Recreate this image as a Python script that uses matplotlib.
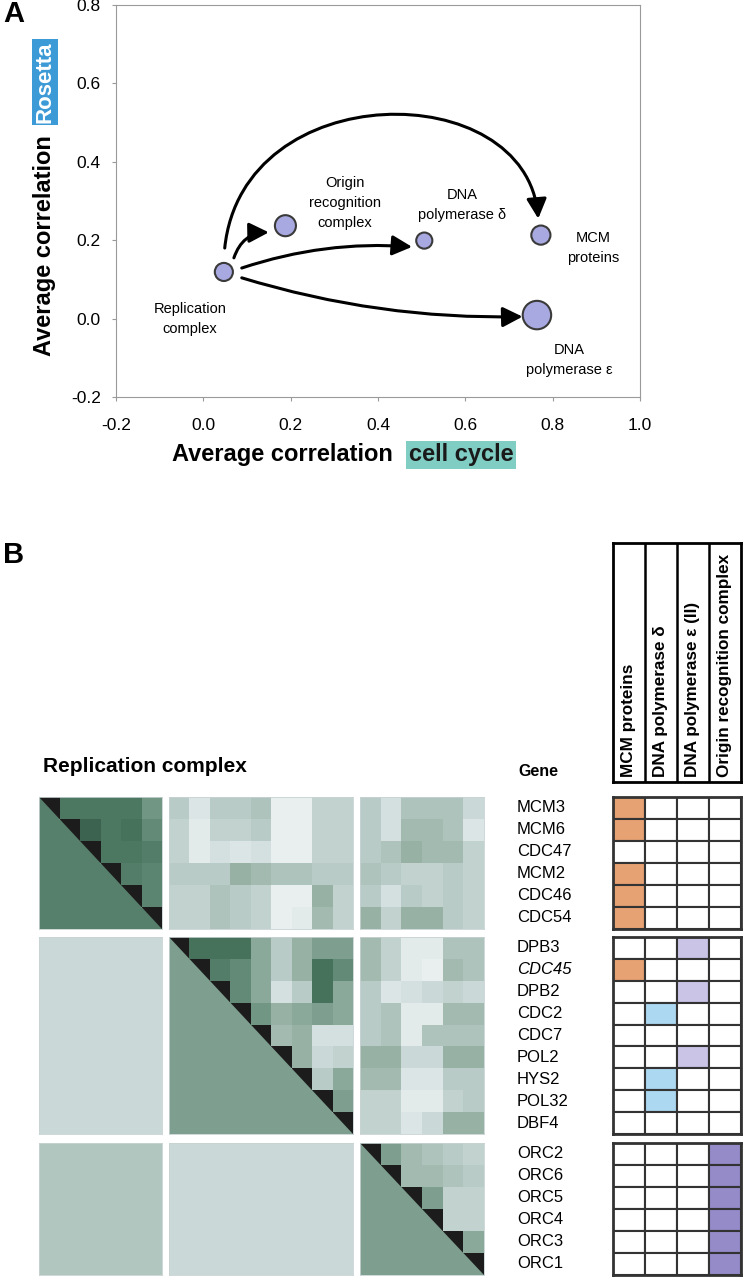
import numpy as np
import matplotlib
matplotlib.use("Agg")
import matplotlib.pyplot as plt
from matplotlib.colors import LinearSegmentedColormap, Normalize
from matplotlib.patches import Polygon, FancyArrowPatch
from matplotlib.path import Path
import matplotlib.transforms as mtransforms

plt.rcParams['font.family'] = ['Liberation Sans', 'DejaVu Sans']

# ---------------- panel A data ----------------
complex_names = ['Replication\ncomplex', 'Origin\nrecognition\ncomplex', 'DNA\npolymerase \u03b4',
                 'MCM\nproteins', 'DNA\npolymerase \u03b5']
cc_corr = [0.047, 0.188, 0.506, 0.773, 0.764]        # average correlation, cell cycle
ros_corr = [0.119, 0.237, 0.199, 0.213, 0.009]       # average correlation, Rosetta
point_size = [170, 230, 135, 190, 420]
label_pos = [(-0.03, 0.0), (0.324, 0.295), (0.592, 0.29), (0.892, 0.18), (0.837, -0.106)]
x_ticks = [-0.2, 0.0, 0.2, 0.4, 0.6, 0.8, 1.0]
y_ticks = [-0.2, 0.0, 0.2, 0.4, 0.6, 0.8]

# ---------------- panel B data ----------------
genes_mcm = ['MCM3', 'MCM6', 'CDC47', 'MCM2', 'CDC46', 'CDC54']
genes_pol = ['DPB3', 'CDC45', 'DPB2', 'CDC2', 'CDC7', 'POL2', 'HYS2', 'POL32', 'DBF4']
genes_orc = ['ORC2', 'ORC6', 'ORC5', 'ORC4', 'ORC3', 'ORC1']
table_cols = ['MCM proteins', 'DNA polymerase \u03b4', 'DNA polymerase \u03b5 (II)',
              'Origin recognition complex']
# column index of the complex each gene belongs to (-1 = none)
member_mcm = [0, 0, -1, 0, 0, 0]
member_pol = [2, 0, 2, 1, -1, 2, 1, 1, -1]
member_orc = [3, 3, 3, 3, 3, 3]
member_colors = ['#e7a273', '#acd8f1', '#cac4e6', '#958bc9']

nan = np.nan
mcm_mcm = [[1, .78, .78, .78, .78, .65],
           [nan, 1, .85, .78, .80, .70],
           [nan, nan, 1, .78, .78, .75],
           [nan, nan, nan, 1, .75, .72],
           [nan, nan, nan, nan, 1, .72],
           [nan, nan, nan, nan, nan, 1]]
mcm_pol = [[.35, .15, .35, .35, .40, .05, .05, .30, .30],
           [.30, .10, .30, .30, .35, .05, .05, .30, .30],
           [.30, .10, .20, .15, .20, .05, .05, .30, .30],
           [.35, .35, .35, .50, .45, .40, .40, .35, .35],
           [.30, .30, .40, .35, .30, .05, .05, .50, .30],
           [.30, .30, .40, .35, .30, .05, .10, .45, .30]]
mcm_orc = [[.35, .20, .40, .40, .40, .25],
           [.35, .20, .45, .45, .40, .15],
           [.35, .40, .50, .45, .45, .30],
           [.40, .35, .30, .30, .35, .30],
           [.35, .20, .35, .30, .35, .30],
           [.50, .30, .50, .50, .35, .30]]
pol_pol = [[1, .80, .80, .80, .55, .35, .50, .60, .60],
           [nan, 1, .75, .70, .55, .35, .50, .80, .70],
           [nan, nan, 1, .70, .55, .20, .35, .80, .55],
           [nan, nan, nan, 1, .65, .50, .55, .60, .55],
           [nan, nan, nan, nan, 1, .45, .50, .20, .20],
           [nan, nan, nan, nan, nan, 1, .50, .25, .30],
           [nan, nan, nan, nan, nan, nan, 1, .35, .55],
           [nan, nan, nan, nan, nan, nan, nan, 1, .60],
           [nan, nan, nan, nan, nan, nan, nan, nan, 1]]
pol_orc = [[.45, .30, .10, .10, .40, .40],
           [.45, .30, .10, .05, .45, .40],
           [.35, .15, .20, .25, .30, .25],
           [.35, .40, .10, .10, .45, .45],
           [.35, .40, .10, .40, .40, .40],
           [.50, .50, .25, .25, .50, .50],
           [.45, .45, .15, .15, .35, .35],
           [.30, .30, .10, .10, .30, .35],
           [.30, .30, .15, .25, .50, .50]]
orc_orc = [[1, .60, .45, .40, .35, .30],
           [nan, 1, .45, .45, .40, .35],
           [nan, nan, 1, .60, .30, .30],
           [nan, nan, nan, 1, .30, .30],
           [nan, nan, nan, nan, 1, .55],
           [nan, nan, nan, nan, nan, 1]]
# shade of the lower half (block averages)
lower_mcm, lower_pol, lower_orc = 0.74, 0.60, 0.60
lower_pol_mcm, lower_orc_mcm, lower_orc_pol = 0.25, 0.38, 0.25

W, H = 746, 1280
fig = plt.figure(figsize=(W / 100, H / 100), dpi=100)


def px_rect(x0, y0, x1, y1):
    return [x0 / W, 1 - y1 / H, (x1 - x0) / W, (y1 - y0) / H]


# ================= panel A =================
ax = fig.add_axes(px_rect(116, 5, 640, 397))
ax.set_xlim(-0.2, 1.0)
ax.set_ylim(-0.2, 0.8)
ax.set_xticks(x_ticks)
ax.set_yticks(y_ticks)
ax.set_xticklabels(['%.1f' % v for v in x_ticks], fontsize=12.5)
ax.set_yticklabels(['%.1f' % v for v in y_ticks], fontsize=12.5)
for s in ax.spines.values():
    s.set_color('#9a9a9a')
    s.set_linewidth(0.8)
ax.tick_params(length=3, color='#9a9a9a')
ax.tick_params(axis='x', pad=12)
ax.tick_params(axis='y', pad=8)

ax.scatter(cc_corr, ros_corr, s=point_size, color='#a9a9e2', edgecolor='#3a3a3a',
           linewidth=1.5, zorder=3)
for name, (lx, ly) in zip(complex_names, label_pos):
    ax.text(lx, ly, name, ha='center', va='center', fontsize=10.5, linespacing=1.55)

arrow_kw = dict(arrowstyle='-|>,head_length=0.75,head_width=0.38', lw=2.2, color='black',
                mutation_scale=16)
# big arc to MCM proteins
arc = Path([(0.049, 0.18), (0.09, 0.62), (0.74, 0.62), (0.767, 0.255)],
           [Path.MOVETO, Path.CURVE4, Path.CURVE4, Path.CURVE4])
ax.add_patch(FancyArrowPatch(path=arc, transform=ax.transData, **arrow_kw))
for p0, p1, rad in [((0.070, 0.155), (0.150, 0.22), -0.35),
                    ((0.088, 0.129), (0.478, 0.183), -0.1),
                    ((0.088, 0.104), (0.731, 0.005), 0.08)]:
    ax.annotate('', xy=p1, xytext=p0,
                arrowprops=dict(connectionstyle='arc3,rad=%s' % rad, shrinkA=0, shrinkB=0,
                                **arrow_kw))

fig.text(282 / W, 1 - 455 / H, 'Average correlation', fontsize=17, fontweight='bold',
         ha='center', va='center')
fig.text(461 / W, 1 - 455 / H, 'cell cycle', fontsize=17, fontweight='bold',
         ha='center', va='center', color='#1a1a1a',
         bbox=dict(boxstyle='square,pad=0.12', fc='#80cdc4', ec='none'))
fig.text(45 / W, 1 - 246 / H, 'Average correlation', fontsize=17, fontweight='bold',
         ha='center', va='center', rotation=90)
fig.text(45 / W, 1 - 82 / H, 'Rosetta', fontsize=16, fontweight='bold', color='white',
         ha='center', va='center', rotation=90,
         bbox=dict(boxstyle='square,pad=0.12', fc='#3c9ad6', ec='none'))
fig.text(3 / W, 1 - 14 / H, 'A', fontsize=21, fontweight='bold', va='center')
fig.text(3 / W, 1 - 555 / H, 'B', fontsize=21, fontweight='bold', va='center')

# ================= panel B =================
cmap = LinearSegmentedColormap.from_list('corr', [
    (0.0, '#f0f4f4'), (0.2, '#d4e0e0'), (0.35, '#b8cbc6'), (0.5, '#97b2a5'),
    (0.65, '#719684'), (0.8, '#46725c'), (0.92, '#2c4e3d'), (0.97, '#1c1c1c'), (1.0, '#1c1c1c')])
norm = Normalize(0, 1)

col_px = [(39, 162), (169, 353), (360, 484)]
row_px = [(797, 929), (937, 1134), (1143, 1275)]

blocks = {(0, 0): mcm_mcm, (0, 1): mcm_pol, (0, 2): mcm_orc,
          (1, 1): pol_pol, (1, 2): pol_orc, (2, 2): orc_orc}
diag_lower = {0: lower_mcm, 1: lower_pol, 2: lower_orc}
offdiag_lower = {(1, 0): lower_pol_mcm, (2, 0): lower_orc_mcm, (2, 1): lower_orc_pol}
sizes = [len(genes_mcm), len(genes_pol), len(genes_orc)]

for i in range(3):
    for j in range(3):
        bx = fig.add_axes(px_rect(col_px[j][0], row_px[i][0], col_px[j][1], row_px[i][1]))
        nr, nc = sizes[i], sizes[j]
        if (i, j) in blocks:
            vals = np.array(blocks[(i, j)], dtype=float)
            bx.pcolormesh(np.arange(nc + 1), np.arange(nr + 1), np.ma.masked_invalid(vals),
                          cmap=cmap, norm=norm)
            if i == j:
                bx.add_patch(Polygon([(0, 0), (0, nr), (nc, nr)], closed=True,
                                     fc=cmap(norm(diag_lower[i])), ec='none'))
        else:
            vals = np.full((nr, nc), offdiag_lower[(i, j)])
            bx.pcolormesh(np.arange(nc + 1), np.arange(nr + 1), vals, cmap=cmap, norm=norm)
        bx.set_xlim(0, nc)
        bx.set_ylim(nr, 0)
        bx.set_xticks([])
        bx.set_yticks([])
        for s in bx.spines.values():
            s.set_color('#c8d2d2')
            s.set_linewidth(0.6)

fig.text(43 / W, 1 - 766 / H, 'Replication complex', fontsize=15, fontweight='bold',
         ha='left', va='center')
fig.text(518 / W, 1 - 771 / H, 'Gene', fontsize=11.5, fontweight='bold', ha='left',
         va='center')

# header of membership table
hx = fig.add_axes(px_rect(613, 543, 741, 782))
hx.set_xlim(0, len(table_cols))
hx.set_ylim(0, 1)
hx.set_xticks([])
hx.set_yticks([])
for s in hx.spines.values():
    s.set_linewidth(2)
for k in range(1, len(table_cols)):
    hx.axvline(k, color='black', lw=1.8)
for k, name in enumerate(table_cols):
    hx.text(k + 0.5, 0.02, name, rotation=90, ha='center', va='bottom', fontsize=12.3,
            fontweight='bold')

# membership tables
groups = [(genes_mcm, member_mcm), (genes_pol, member_pol), (genes_orc, member_orc)]
for i, (genes, members) in enumerate(groups):
    tx = fig.add_axes(px_rect(613, row_px[i][0], 741, row_px[i][1]))
    n = len(genes)
    for r, m in enumerate(members):
        for c in range(len(table_cols)):
            fc = member_colors[c] if m == c else 'white'
            tx.add_patch(plt.Rectangle((c, r), 1, 1, fc=fc, ec='#333333', lw=1.5))
    tx.set_xlim(0, len(table_cols))
    tx.set_ylim(n, 0)
    tx.set_xticks([])
    tx.set_yticks([])
    for s in tx.spines.values():
        s.set_linewidth(2)
        s.set_color('#333333')
    trans = mtransforms.blended_transform_factory(fig.transFigure, tx.transData)
    for r, g in enumerate(genes):
        tx.text(517 / W, r + 0.5, g, transform=trans, fontsize=12, ha='left', va='center',
                style='italic' if g == 'CDC45' else 'normal')

fig.savefig('out.png', dpi=100)
